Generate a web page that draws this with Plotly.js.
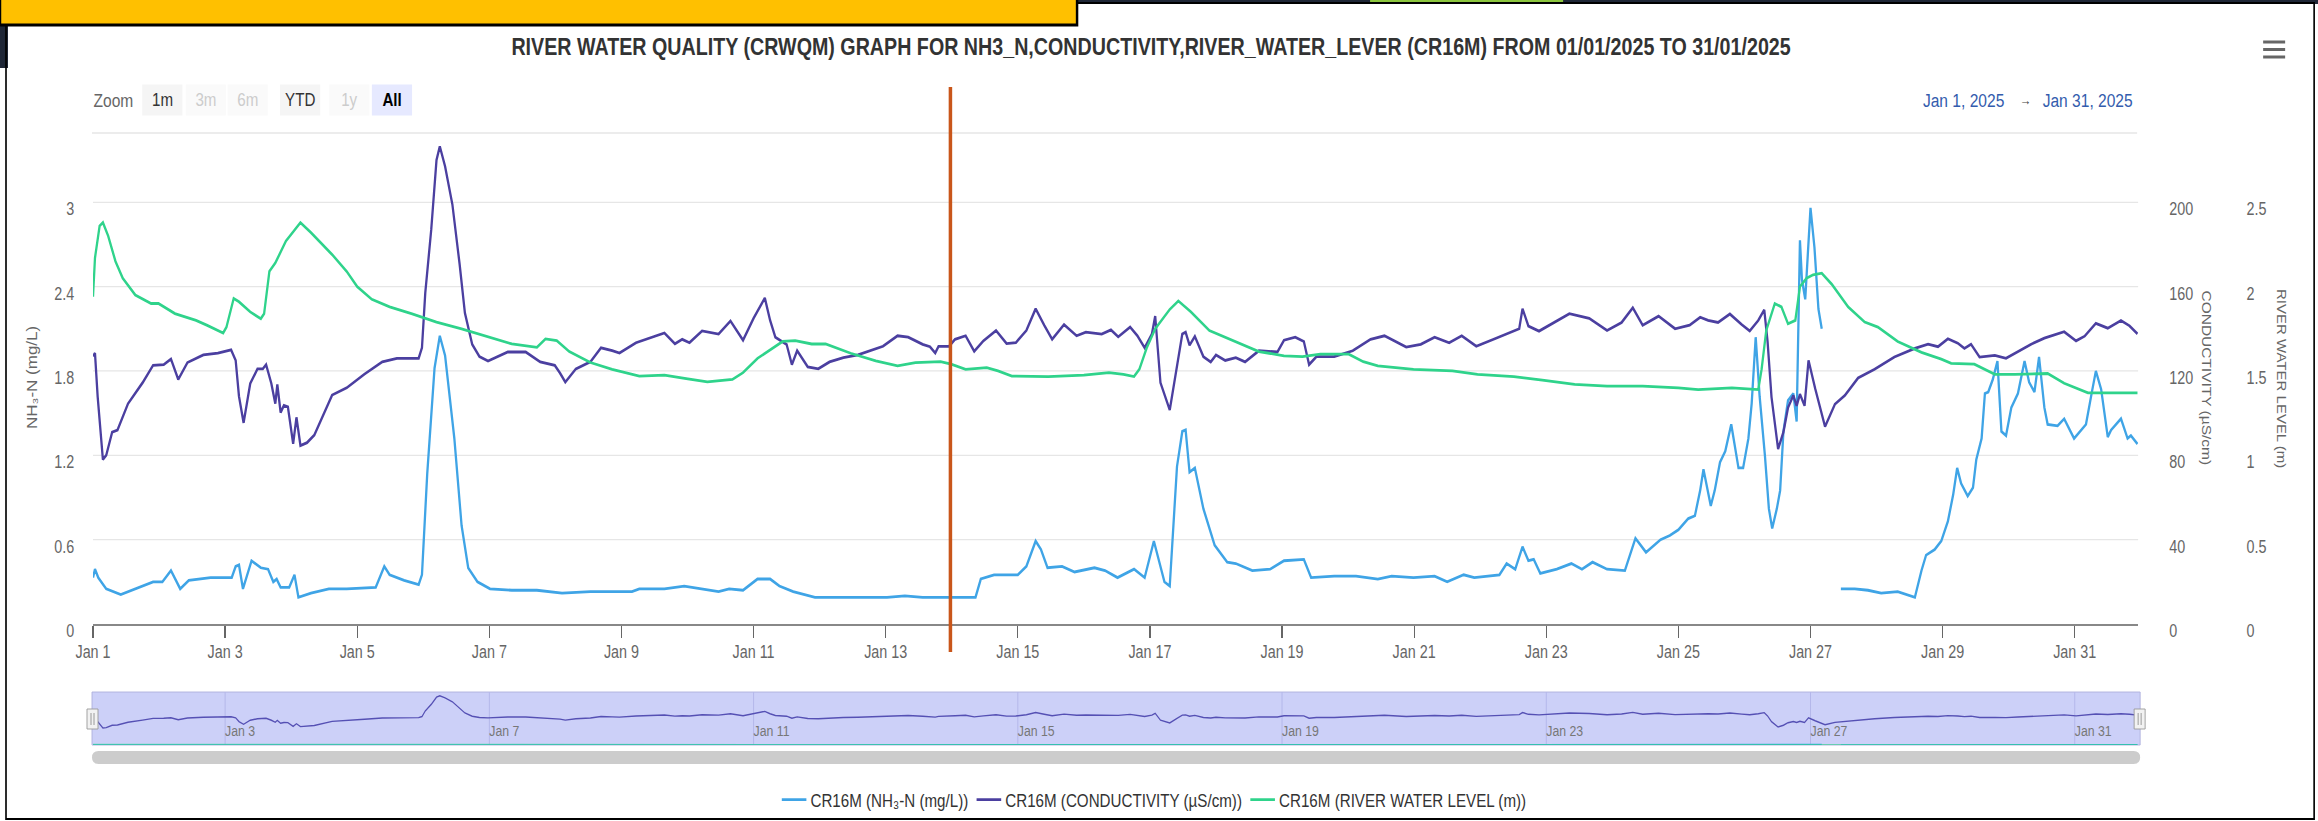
<!DOCTYPE html>
<html><head><meta charset="utf-8">
<script src="https://cdn.plot.ly/plotly-3.0.1.min.js"></script>
<style>
html,body{margin:0;padding:0;background:#fff;overflow:hidden;width:2318px;height:821px}
#wrap{width:2318px;height:821px;overflow:hidden;position:relative}
#chart{position:absolute;left:0;top:0;transform-origin:0 0}
</style>
</head><body><div id="wrap"><div id="chart"></div></div>
<script>
// ---- data (x = day of January 2025, fractional) ----
const nh3Day = [1.00,1.03,1.08,1.20,1.42,1.64,1.91,2.05,2.18,2.32,2.45,2.78,3.10,3.16,3.21,3.27,3.40,3.54,3.65,3.73,3.78,3.84,3.97,4.05,4.11,4.30,4.57,4.84,5.28,5.41,5.49,5.71,5.93,5.98,6.06,6.17,6.25,6.33,6.47,6.58,6.68,6.82,7.01,7.34,7.72,8.10,8.53,9.00,9.16,9.27,9.65,9.95,10.19,10.47,10.63,10.84,11.06,11.25,11.39,11.60,11.93,12.47,13.02,13.29,13.56,14.10,14.36,14.44,14.64,15.00,15.13,15.27,15.35,15.45,15.67,15.86,16.16,16.32,16.51,16.76,16.92,17.06,17.14,17.22,17.30,17.41,17.49,17.54,17.60,17.68,17.81,17.98,18.17,18.30,18.55,18.82,19.03,19.33,19.44,19.79,20.12,20.45,20.66,20.99,21.31,21.50,21.75,21.91,22.29,22.40,22.53,22.64,22.73,22.81,22.91,23.16,23.38,23.54,23.70,23.92,24.19,24.35,24.51,24.73,24.87,25.00,25.15,25.25,25.33,25.38,25.49,25.55,25.63,25.71,25.80,25.86,25.91,25.98,26.06,26.11,26.17,26.23,26.31,26.37,26.42,26.49,26.54,26.59,26.66,26.74,26.79,26.84,26.87,26.92,26.96,27.00,27.06,27.12,27.17,27.30,27.46,27.67,27.87,28.07,28.32,28.53,28.58,28.68,28.75,28.88,28.98,29.08,29.16,29.22,29.28,29.38,29.46,29.51,29.59,29.64,29.69,29.76,29.83,29.89,29.96,30.04,30.14,30.24,30.31,30.39,30.46,30.54,30.59,30.74,30.84,30.99,31.17,31.26,31.32,31.40,31.50,31.55,31.70,31.80,31.85,31.95];
const nh3Val = [0.33,0.39,0.33,0.25,0.21,0.25,0.30,0.30,0.38,0.25,0.31,0.33,0.33,0.41,0.42,0.25,0.45,0.40,0.39,0.30,0.32,0.26,0.26,0.35,0.19,0.22,0.25,0.25,0.26,0.41,0.35,0.31,0.28,0.35,1.07,1.82,2.05,1.91,1.32,0.70,0.40,0.30,0.25,0.24,0.24,0.22,0.23,0.23,0.23,0.25,0.25,0.27,0.25,0.23,0.25,0.24,0.32,0.32,0.27,0.23,0.19,0.19,0.19,0.20,0.19,0.19,0.19,0.32,0.35,0.35,0.41,0.59,0.53,0.40,0.41,0.37,0.40,0.38,0.33,0.39,0.33,0.59,0.45,0.30,0.27,1.12,1.37,1.38,1.08,1.11,0.82,0.56,0.44,0.43,0.38,0.39,0.45,0.46,0.33,0.34,0.34,0.32,0.34,0.33,0.34,0.30,0.35,0.33,0.35,0.43,0.39,0.55,0.45,0.46,0.36,0.39,0.43,0.39,0.44,0.39,0.38,0.61,0.51,0.60,0.63,0.67,0.75,0.77,0.95,1.10,0.84,0.95,1.15,1.23,1.42,1.25,1.11,1.11,1.32,1.57,2.04,1.62,1.20,0.82,0.68,0.82,0.95,1.37,1.59,1.64,1.44,2.73,2.45,2.31,2.66,2.96,2.68,2.24,2.10,null,0.25,0.25,0.24,0.22,0.23,0.20,0.19,0.38,0.49,0.53,0.59,0.73,0.92,1.11,1.00,0.91,0.97,1.17,1.32,1.64,1.65,1.74,1.87,1.37,1.34,1.54,1.64,1.87,1.72,1.65,1.90,1.54,1.42,1.41,1.46,1.32,1.42,1.65,1.80,1.67,1.33,1.38,1.46,1.32,1.34,1.28];

const condDay = [1.00,1.03,1.07,1.15,1.20,1.29,1.37,1.53,1.75,1.91,2.07,2.18,2.29,2.43,2.67,2.89,3.09,3.16,3.21,3.28,3.38,3.49,3.57,3.62,3.70,3.76,3.79,3.84,3.89,3.95,4.03,4.08,4.14,4.24,4.35,4.62,4.84,5.11,5.38,5.60,5.93,5.98,6.03,6.12,6.20,6.25,6.33,6.44,6.55,6.63,6.74,6.85,6.98,7.12,7.28,7.55,7.77,7.99,8.07,8.15,8.31,8.53,8.69,8.86,8.97,9.22,9.65,9.81,9.92,10.03,10.22,10.47,10.65,10.84,11.00,11.17,11.25,11.33,11.50,11.58,11.66,11.82,11.98,12.15,12.36,12.58,12.96,13.18,13.34,13.56,13.67,13.75,13.80,13.96,14.05,14.21,14.34,14.48,14.67,14.83,14.97,15.13,15.27,15.40,15.52,15.70,15.89,16.03,16.27,16.41,16.52,16.70,16.81,16.92,17.03,17.08,17.16,17.30,17.41,17.49,17.54,17.60,17.68,17.81,17.92,18.00,18.14,18.30,18.44,18.65,18.93,19.03,19.20,19.33,19.41,19.52,19.79,20.07,20.34,20.55,20.88,21.10,21.31,21.53,21.72,21.94,22.24,22.51,22.59,22.64,22.73,22.89,23.05,23.35,23.65,23.92,24.14,24.31,24.46,24.70,24.95,25.17,25.33,25.45,25.60,25.78,25.96,26.08,26.21,26.30,26.35,26.41,26.51,26.59,26.66,26.74,26.79,26.84,26.91,26.97,27.07,27.22,27.37,27.52,27.72,27.97,28.27,28.58,28.78,28.93,29.08,29.23,29.33,29.43,29.56,29.79,29.96,30.14,30.34,30.54,30.74,30.84,31.02,31.15,31.32,31.50,31.70,31.83,31.95];
const condVal = [127,128.5,108,78,80,91,92,104.5,114.4,122.7,123,125.7,116,124,127.6,128.5,130,125,108,95.4,114,121,121,123,114,104.5,113.6,100.3,103.7,103,85.5,98,84.6,86,89.6,108.6,112,118.5,124.3,126,126,131,157,187,220,226.5,217,199,170.6,147.5,132.6,126.8,124.7,126.8,129,129,124.3,122.7,119,114.7,121,124.3,131,129.6,128.5,133.4,138,132.9,135,133.4,139,137.5,143.7,134.6,145,154.6,144,136,132.6,123,129.6,121.9,121,124.3,126.3,127.6,131.7,136.7,136,132.6,131.5,128.5,131.7,131.7,135,136.7,129.3,134.3,139.2,133,133.4,139.2,149.5,141.7,135,142,136.7,138.4,137.5,139.5,136.2,140.8,136.7,131,137.5,146,114.4,101.5,122.7,137.5,138.4,132.2,136.4,126.8,124.3,127.6,125,126.3,124.3,129.6,129,134.6,136,134,123,126.8,126.8,129.6,135,136.7,131.3,132.6,136,133.4,136.7,131.7,135.5,139.2,140,149.5,141.3,138.9,141.7,147.2,145,139.2,143,150,141.7,146,140,141.7,145.5,144,143,147,142,139,144,149,134,107.6,83,91,102.6,108.4,103.5,109,103.5,125,111.7,93.6,104.3,108.4,116.7,120.8,126.6,130.7,132.7,131.5,135.3,133.2,130.7,132.7,126.6,127.4,126,129,132.7,135.6,137.6,138.6,134.3,136.5,142.6,140.3,143.9,141.4,137.6];

const levelDay = [1.00,1.03,1.10,1.15,1.23,1.34,1.45,1.64,1.88,1.99,2.24,2.56,2.73,2.97,3.02,3.13,3.21,3.38,3.54,3.59,3.67,3.76,3.92,4.14,4.30,4.62,4.84,5.00,5.22,5.49,5.82,6.20,6.58,7.01,7.34,7.72,7.85,8.02,8.21,8.53,8.86,9.27,9.65,9.98,10.30,10.68,10.84,11.06,11.28,11.44,11.63,11.88,12.09,12.47,12.85,13.18,13.45,13.83,13.99,14.21,14.53,14.70,14.91,15.46,16.00,16.38,16.60,16.76,16.84,16.95,17.08,17.30,17.43,17.62,17.90,18.28,18.65,19.03,19.31,19.58,20.01,20.23,20.45,20.99,21.58,21.96,22.51,22.94,23.43,23.92,24.46,25.00,25.30,25.81,26.21,26.26,26.33,26.46,26.56,26.66,26.77,26.84,26.94,27.04,27.17,27.32,27.57,27.82,28.02,28.32,28.68,28.98,29.13,29.48,29.79,30.09,30.59,30.84,31.20,31.39,31.95];
const levelVal = [1.94,2.17,2.36,2.38,2.30,2.15,2.05,1.95,1.90,1.90,1.84,1.80,1.77,1.725,1.76,1.93,1.91,1.85,1.81,1.84,2.09,2.14,2.27,2.38,2.32,2.19,2.09,2.00,1.925,1.88,1.84,1.79,1.75,1.70,1.66,1.64,1.69,1.68,1.615,1.55,1.51,1.47,1.475,1.455,1.435,1.45,1.49,1.575,1.635,1.675,1.68,1.66,1.66,1.605,1.56,1.53,1.55,1.555,1.54,1.51,1.52,1.50,1.47,1.467,1.475,1.49,1.48,1.467,1.51,1.635,1.75,1.865,1.915,1.85,1.74,1.675,1.615,1.59,1.585,1.60,1.60,1.555,1.53,1.51,1.50,1.48,1.467,1.446,1.42,1.41,1.41,1.40,1.39,1.40,1.39,1.51,1.74,1.90,1.88,1.78,1.80,2.00,2.05,2.07,2.08,2.015,1.88,1.79,1.76,1.675,1.61,1.57,1.545,1.54,1.48,1.48,1.485,1.427,1.37,1.37,1.37];

const seriesNames = ['CR16M (NH₃-N (mg/L))', 'CR16M (CONDUCTIVITY (µS/cm))', 'CR16M (RIVER WATER LEVEL (m))'];
const nh3Ticks = [0, 0.6, 1.2, 1.8, 2.4, 3];
const condTicks = [0, 40, 80, 120, 160, 200];
const levelTicks = [0, 0.5, 1, 1.5, 2, 2.5];
const rangeButtons = ['1m', '3m', '6m', 'YTD', '1y', 'All'];
const chartTitle = 'RIVER WATER QUALITY (CRWQM) GRAPH FOR NH3_N,CONDUCTIVITY,RIVER_WATER_LEVER (CR16M) FROM 01/01/2025 TO 31/01/2025';
const dateFrom = 'Jan 1, 2025', dateTo = 'Jan 31, 2025';

// ---- helpers ----
function dayToStr(d) {
  const day = Math.floor(d);
  const mins = Math.round((d - day) * 1440);
  const hh = String(Math.floor(mins / 60)).padStart(2, '0');
  const mm = String(mins % 60).padStart(2, '0');
  return '2025-01-' + String(day).padStart(2, '0') + ' ' + hh + ':' + mm;
}
const W = 2318, H = 821;
const S = 0.82;                 // horizontal squeeze of the original screenshot
const WV = Math.round(W / S);   // virtual drawing width
const hx = v => v / S;          // horizontal pixel size in virtual units
const hxi = v => Math.round(v / S);
const px = v => v / W;
const py = v => 1 - v / H;
const FN = "'Liberation Sans',Arial,sans-serif";
const C_NH3 = '#3fa4e6', C_COND = '#4b3fa0', C_LVL = '#2fd38b';

const xRange = [dayToStr(1), dayToStr(31.96)];
const xDom = [px(93), px(2138)];

const traces = [
  {x: nh3Day.map(dayToStr), y: nh3Val, name: seriesNames[0], type: 'scatter', mode: 'lines', xaxis: 'x', yaxis: 'y', line: {color: C_NH3, width: 2.8}, connectgaps: false},
  {x: condDay.map(dayToStr), y: condVal, name: seriesNames[1], type: 'scatter', mode: 'lines', xaxis: 'x', yaxis: 'y2', line: {color: C_COND, width: 2.8}},
  {x: levelDay.map(dayToStr), y: levelVal, name: seriesNames[2], type: 'scatter', mode: 'lines', xaxis: 'x', yaxis: 'y3', line: {color: C_LVL, width: 2.8}},
  // navigator copies
  {x: nh3Day.map(dayToStr), y: nh3Val, type: 'scatter', mode: 'lines', xaxis: 'x2', yaxis: 'y4', line: {color: C_NH3, width: 1.5}, showlegend: false},
  {x: levelDay.map(dayToStr), y: levelVal, type: 'scatter', mode: 'lines', xaxis: 'x2', yaxis: 'y4', line: {color: C_LVL, width: 1.5}, showlegend: false, opacity: 0.6},
  {x: condDay.map(dayToStr), y: condVal, type: 'scatter', mode: 'lines', xaxis: 'x2', yaxis: 'y4', line: {color: '#5550b4', width: 1.4}, showlegend: false}
];

const annotations = [];
const A = (o) => Object.assign({xref: 'paper', yref: 'paper', showarrow: false, yanchor: 'middle'}, o);
annotations.push(A({text: 'Zoom', x: px(92), y: py(100), xanchor: 'left', font: {family: FN, size: 19, color: '#666'}}));
const btnX = [162, 206, 248, 300, 349, 392];
rangeButtons.forEach((b, i) => {
  const disabled = (b === '3m' || b === '6m' || b === '1y');
  const selected = b === 'All';
  annotations.push(A({
    text: selected ? '<b>' + b + '</b>' : b,
    x: px(btnX[i]), y: py(100), xanchor: 'center',
    width: hx(38), height: 28, valign: 'middle', borderpad: 1,
    bgcolor: selected ? '#e6e9ff' : (disabled ? '#fafafa' : '#f5f5f5'),
    font: {family: FN, size: 18.5, color: selected ? '#000' : (disabled ? '#cccccc' : '#333')}
  }));
});
annotations.push(A({text: dateFrom, x: px(2006), y: py(100), xanchor: 'right', font: {family: FN, size: 19, color: '#335cad'}}));
annotations.push(A({text: '\u2192', x: px(2025), y: py(100), xanchor: 'center', font: {family: FN, size: 14, color: '#444'}}));
annotations.push(A({text: dateTo, x: px(2134), y: py(100), xanchor: 'right', font: {family: FN, size: 19, color: '#335cad'}}));
annotations.push(A({text: 'NH₃-N (mg/L)', x: px(32), y: py(378), xanchor: 'center', textangle: -90, font: {family: FN, size: 17, color: '#666'}}));
annotations.push(A({text: 'CONDUCTIVITY (µS/cm)', x: px(2207), y: py(378), xanchor: 'center', textangle: 90, font: {family: FN, size: 15.5, color: '#666'}}));
annotations.push(A({text: 'RIVER WATER LEVEL (m)', x: px(2282), y: py(378), xanchor: 'center', textangle: 90, font: {family: FN, size: 15, color: '#666'}}));

function roundRectPath(x0, y0, x1, y1, r) {
  const X = v => px(v).toFixed(5), Y = v => py(v).toFixed(5);
  return 'M' + X(x0 + r) + ',' + Y(y0) + ' L' + X(x1 - r) + ',' + Y(y0) +
    ' Q' + X(x1) + ',' + Y(y0) + ' ' + X(x1) + ',' + Y(y0 + r) +
    ' L' + X(x1) + ',' + Y(y1 - r) + ' Q' + X(x1) + ',' + Y(y1) + ' ' + X(x1 - r) + ',' + Y(y1) +
    ' L' + X(x0 + r) + ',' + Y(y1) + ' Q' + X(x0) + ',' + Y(y1) + ' ' + X(x0) + ',' + Y(y1 - r) +
    ' L' + X(x0) + ',' + Y(y0 + r) + ' Q' + X(x0) + ',' + Y(y0) + ' ' + X(x0 + r) + ',' + Y(y0) + ' Z';
}
const P = (x0, y0, x1, y1, extra) => Object.assign({type: 'rect', xref: 'paper', yref: 'paper', x0: px(x0), x1: px(x1), y0: py(y1), y1: py(y0)}, extra);
const L = (x0, y0, x1, y1, color, width, layer) => ({type: 'line', xref: 'paper', yref: 'paper', x0: px(x0), x1: px(x1), y0: py(y0), y1: py(y1), line: {color: color, width: width}, layer: layer || 'above'});

const shapes = [
  // page surroundings
  P(0, 0, 2318, 4, {fillcolor: '#1f2737', line: {width: 0}, layer: 'below'}),
  P(1370, 0, 1563, 4, {fillcolor: '#8cc63e', line: {width: 0}, layer: 'below'}),
  P(0, 24, 8, 68, {fillcolor: '#1f2737', line: {width: 0}, layer: 'below'}),
  P(6, 3, 2314, 819, {fillcolor: 'rgba(0,0,0,0)', line: {color: '#000', width: 2}, layer: 'below'}),
  P(0, -3, 1077, 25, {fillcolor: '#ffc000', line: {color: '#000', width: 3}, layer: 'above'}),
  // separator under range selector
  L(92, 133, 2137, 133, '#e6e6e6', 1.5, 'below'),
  // hamburger
  L(2263, 42, 2285, 42, '#666', 3), L(2263, 49.5, 2285, 49.5, '#666', 3), L(2263, 57, 2285, 57, '#666', 3),
  // marker line
  {type: 'line', xref: 'x', yref: 'paper', x0: dayToStr(13.98), x1: dayToStr(13.98), y0: py(652), y1: py(87), line: {color: '#c9561a', width: hx(3.5)}, layer: 'above'},
  // navigator
  P(92, 692, 2140, 745, {fillcolor: '#ccd0f8', line: {color: '#aeb1dd', width: 1}, layer: 'below'}),
  P(87, 709, 98, 729, {fillcolor: '#f2f2f2', line: {color: '#999', width: 1}, layer: 'above'}),
  L(91, 713, 91, 725, '#999', 1.2), L(94, 713, 94, 725, '#999', 1.2),
  P(2134, 709, 2145, 729, {fillcolor: '#f2f2f2', line: {color: '#999', width: 1}, layer: 'above'}),
  L(2138, 713, 2138, 725, '#999', 1.2), L(2141, 713, 2141, 725, '#999', 1.2),
  {type: 'path', xref: 'paper', yref: 'paper', path: roundRectPath(92, 751, 2140, 764, 6.5), fillcolor: '#cccccc', line: {width: 0}, layer: 'below'}
];

const tickFont = {family: FN, size: 17.5, color: '#666'};
const layout = {
  width: WV, height: H,
  margin: {l: 0, r: 0, t: 0, b: 0},
  paper_bgcolor: '#ffffff', plot_bgcolor: 'rgba(0,0,0,0)',
  font: {family: FN, size: 17.5, color: '#666'},
  title: {text: '<b>' + chartTitle + '</b>', x: px(1151), xanchor: 'center', xref: 'paper', y: py(47), yanchor: 'middle', yref: 'paper', font: {family: FN, size: 24, color: '#333'}},
  showlegend: true,
  legend: {orientation: 'h', x: px(1154), xanchor: 'center', y: py(800), yanchor: 'middle', font: {family: FN, size: 18.5, color: '#333'}, bgcolor: 'rgba(0,0,0,0)'},
  xaxis: {type: 'date', domain: xDom, range: xRange, anchor: 'y', tick0: '2025-01-01', dtick: 2 * 86400000, tickformat: '%b %-d',
    ticks: 'outside', ticklen: 12, tickwidth: hx(1.3), tickcolor: '#666', showline: true, linecolor: '#888', linewidth: 1.5,
    showgrid: false, zeroline: false, tickfont: tickFont, fixedrange: true},
  yaxis: {domain: [py(624), py(132)], range: [0, 3.5], tickvals: nh3Ticks, ticktext: nh3Ticks.map(String), showgrid: true, gridcolor: '#e6e6e6', gridwidth: 1.2,
    zeroline: false, showline: false, ticks: '', ticklabelstandoff: hxi(18), ticklabelshift: 7, tickfont: tickFont, fixedrange: true},
  yaxis2: {overlaying: 'y', side: 'right', anchor: 'x', range: [0, 233.333], tickvals: condTicks, ticktext: condTicks.map(String), showgrid: false, zeroline: false, showline: false,
    ticks: '', ticklabelstandoff: hxi(30), ticklabelshift: 7, tickfont: tickFont, fixedrange: true},
  yaxis3: {overlaying: 'y', side: 'right', anchor: 'free', position: px(2226), range: [0, 2.91667], tickvals: levelTicks, ticktext: levelTicks.map(String), showgrid: false, zeroline: false, showline: false,
    ticks: '', ticklabelstandoff: hxi(20), ticklabelshift: 7, tickfont: tickFont, fixedrange: true},
  xaxis2: {type: 'date', domain: xDom, range: xRange, anchor: 'y4', tick0: '2025-01-03', dtick: 4 * 86400000, tickformat: '%b %-d',
    showgrid: true, gridcolor: '#b4b7ea', gridwidth: 1.2, ticks: '', showline: false, zeroline: false, ticklabelposition: 'inside right',
    tickfont: {family: FN, size: 15, color: '#777'}, fixedrange: true},
  yaxis4: {domain: [py(745), py(692)], range: [0, 244], visible: false, fixedrange: true},
  annotations: annotations,
  shapes: shapes
};

const el = document.getElementById('chart');
el.style.width = WV + 'px';
el.style.height = H + 'px';
el.style.transform = 'scaleX(' + S + ')';
Plotly.newPlot(el, traces, layout, {displayModeBar: false, staticPlot: true});
</script>
</body></html>
